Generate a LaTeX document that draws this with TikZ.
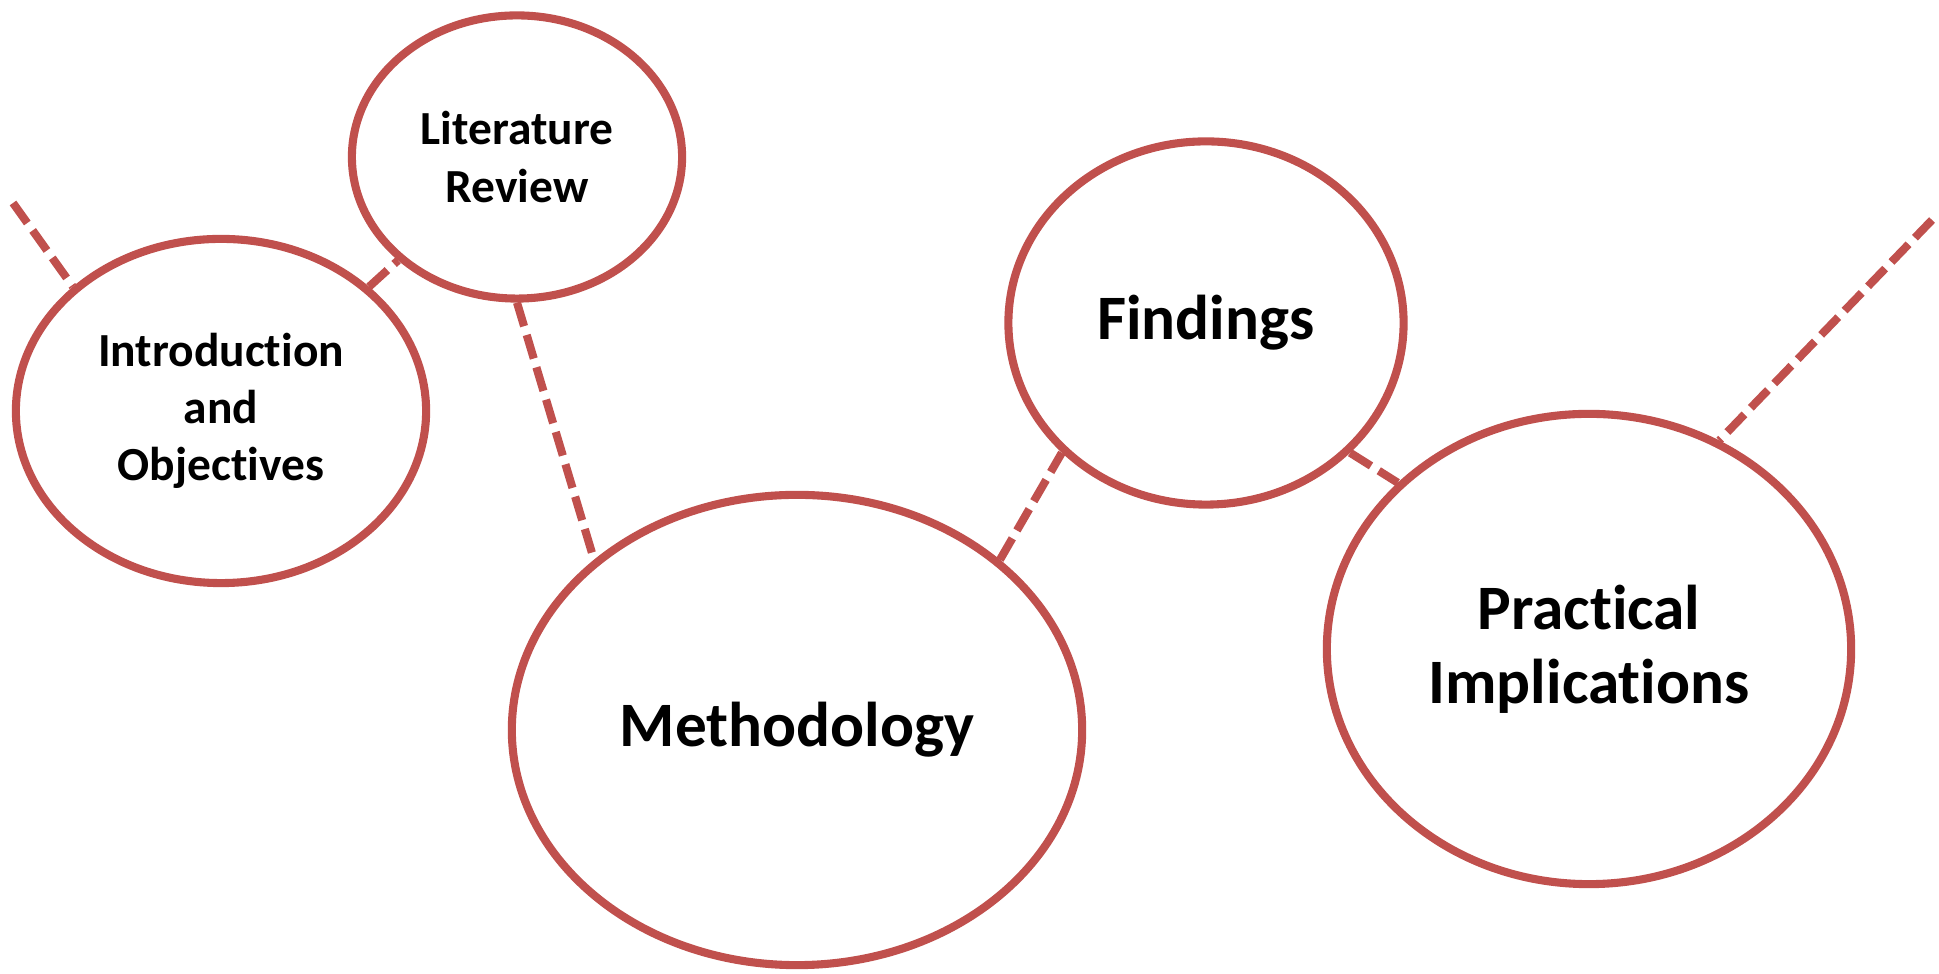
\documentclass[tikz,border=0pt]{standalone}
\usepackage{fontspec}
\setmainfont{Carlito}[Ligatures={NoCommon}]
\usetikzlibrary{shapes.geometric}
\definecolor{accentred}{HTML}{C0504D}

\begin{document}
\begin{tikzpicture}
    [x=0.01cm, y=-0.01cm,
    bubble/.style={ellipse,draw=accentred,line width=2.3pt,inner sep=0pt,
        align=center,font=\bfseries\fontsize{18}{21}\selectfont},
    small bubble/.style={bubble,font=\bfseries\fontsize{13.5}{16.3}\selectfont},
    link/.style={draw=accentred,line width=2.3pt,dash pattern=on 7pt off 2.6pt}]

    \useasboundingbox (0,0) rectangle (1939,974);

    \node[small bubble,minimum width=4.10cm,minimum height=3.44cm] (intro) at (221,411) {Introduction\\and\\Objectives};
    \node[small bubble,minimum width=3.30cm,minimum height=2.83cm] (lit) at (517,157) {Literature\\Review};
    \node[bubble,minimum width=5.70cm,minimum height=4.70cm] (meth) at (797,730) {Methodology};
    \node[bubble,minimum width=3.95cm,minimum height=3.63cm] (fin) at (1206,323) {Findings};
    \node[bubble,minimum width=5.24cm,minimum height=4.70cm] (prac) at (1589,649) {Practical\\Implications};

    \coordinate (start) at (13,203);
    \coordinate (finish) at (1932,220);

    \draw[link] (start) -- (intro.140);
    \draw[link] (intro.40) -- (lit.221);
    \draw[link] (lit.south) -- (meth.140);
    \draw[link] (meth.40) -- (fin.222);
    \draw[link] (fin.318) -- (prac.139);
    \draw[link] (finish) -- (prac.58);

\end{tikzpicture}
\end{document}
